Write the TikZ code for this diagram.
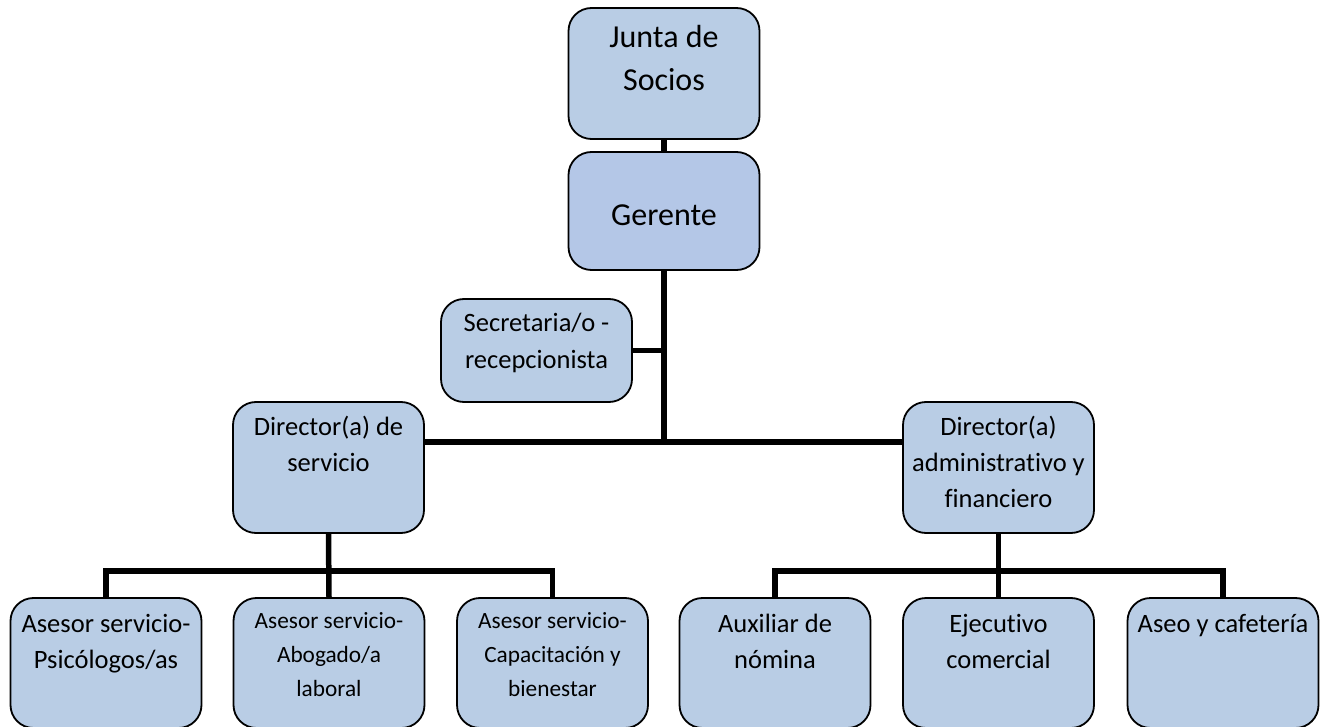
\documentclass[tikz,border=0pt]{standalone}
\usepackage{fontspec}
\setmainfont{Carlito}[Ligatures=NoCommon]
\usepackage{tikz}
\usepackage{xcolor}
\definecolor{boxfill}{HTML}{B9CDE5}
\definecolor{topfill}{HTML}{B4C7E7}
\tikzset{
  box h/.store in=\boxh, box h=131pt,
  first line/.store in=\firstln, first line=33pt,
  orgbox/.style={draw=black, line width=1.8pt, fill=boxfill, rounded corners=23pt,
    inner sep=0pt, font=\fontsize{26.5}{36}\selectfont,
    execute at begin node={\begin{minipage}[c][\boxh][t]{191pt}\selectfont\centering\rule{0pt}{\firstln}},
    execute at end node={\end{minipage}}},
  bigbox/.style={orgbox, font=\fontsize{32}{43}\selectfont},
  smallbox/.style={orgbox, font=\fontsize{23.3}{34}\selectfont},
  link/.style={line width=5.5pt},
}

\begin{document}
\begin{tikzpicture}[x=1pt, y=-1pt]
  \useasboundingbox (0,0) rectangle (1323,727);
  % top of the chart
  \node[bigbox, box h=131pt, first line=40pt] (junta) at (664,73.5) {Junta de\\Socios};
  \node[bigbox, box h=118pt, first line=74pt, fill=topfill] (gerente) at (664,211) {Gerente};
  \node[orgbox, box h=103pt] (secre) at (536.5,350.5) {Secretaria/o -\\recepcionista};
  \node[orgbox] (dirserv) at (328.5,467.5) {Director(a) de\\servicio};
  \node[orgbox] (diradm) at (998.5,467.5) {Director(a)\\administrativo y\\financiero};
  % bottom row
  \node[orgbox, box h=130pt, first line=34pt] (aspsi) at (106,663) {Asesor servicio-\\Psicólogos/as};
  \node[smallbox, box h=130pt, first line=30pt] (asabo) at (329,663) {Asesor servicio-\\Abogado/a\\laboral};
  \node[smallbox, box h=130pt, first line=30pt] (ascap) at (552.5,663) {Asesor servicio-\\Capacitación y\\bienestar};
  \node[orgbox, box h=130pt, first line=34pt] (auxnom) at (775,663) {Auxiliar de\\nómina};
  \node[orgbox, box h=130pt, first line=34pt] (ejecom) at (998.5,663) {Ejecutivo\\comercial};
  \node[orgbox, box h=130pt, first line=34pt] (aseo) at (1223,663) {Aseo y cafetería};

  \coordinate (hub) at (664,442);
  \coordinate (servbar) at (329,571);
  \coordinate (admbar) at (998.5,571);
  \draw[link] (junta) -- (gerente);
  \draw[link] (gerente.south) -- (hub);
  \draw[link] (secre.east) -- (secre.east -| hub);
  \draw[link] (dirserv.east |- hub) -- (diradm.west |- hub);

  \draw[link] (dirserv.south) -- (asabo.north);
  \draw[link] (aspsi.north) -- (aspsi.north |- servbar)
    -- (ascap.north |- servbar) -- (ascap.north);
  \draw[link] (diradm.south) -- (ejecom.north);
  \draw[link] (auxnom.north) -- (auxnom.north |- admbar)
    -- (aseo.north |- admbar) -- (aseo.north);
\end{tikzpicture}
\end{document}
